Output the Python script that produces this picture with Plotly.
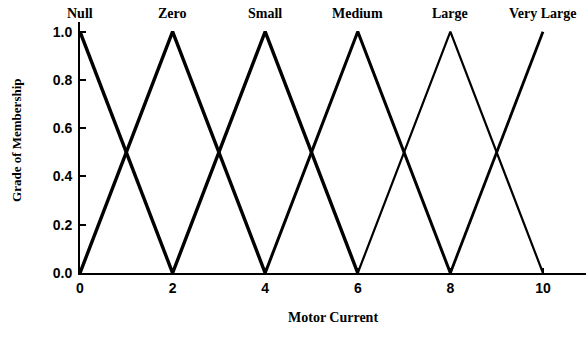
import plotly.graph_objects as go

# membership functions for motor current (triangles)
labels = ['Null', 'Zero', 'Small', 'Medium', 'Large', 'Very Large']
peaks = [0, 2, 4, 6, 8, 10]
null_x = [0, 2]
null_y = [1.0, 0.0]
zero_x = [0, 2, 4]
zero_y = [0.0, 1.0, 0.0]
small_x = [2, 4, 6]
small_y = [0.0, 1.0, 0.0]
medium_x = [4, 6, 8]
medium_y = [0.0, 1.0, 0.0]
large_x = [6, 8, 10]
large_y = [0.0, 1.0, 0.0]
very_large_x = [8, 10]
very_large_y = [0.0, 1.0]
x_ticks = [0, 2, 4, 6, 8, 10]
y_ticks = [0.0, 0.2, 0.4, 0.6, 0.8, 1.0]

series = [(null_x, null_y, 3.4), (zero_x, zero_y, 3.4), (small_x, small_y, 3.4),
          (medium_x, medium_y, 3), (large_x, large_y, 2.2), (very_large_x, very_large_y, 2.8)]

serif = 'Liberation Serif, Times New Roman, serif'
sans = 'Liberation Sans, Arial, sans-serif'

fig = go.Figure()
for (xs, ys, w), name in zip(series, labels):
    fig.add_trace(go.Scatter(x=xs, y=ys, mode='lines', name=name,
                             line=dict(color='black', width=w)))

# category labels above each peak
for lab, p in zip(labels, peaks):
    fig.add_annotation(x=p, y=1, xref='x', yref='paper', text=lab, showarrow=False,
                       xanchor='center', yanchor='middle', yshift=9,
                       font=dict(family=serif, size=14, color='black', weight='bold'))

fig.add_annotation(x=0, y=0.526, xref='paper', yref='paper', text='Grade of Membership',
                   textangle=-90, showarrow=False, xanchor='center', xshift=-63,
                   font=dict(family=serif, size=13, color='black', weight='bold'))
fig.add_annotation(x=0.5, y=0, xref='paper', yref='paper', text='Motor Current',
                   showarrow=False, xanchor='center', yshift=-54,
                   font=dict(family=serif, size=14, color='black', weight='bold'))

fig.update_layout(
    width=586, height=338,
    margin=dict(l=80, r=0, t=22, b=65, autoexpand=False),
    plot_bgcolor='white', paper_bgcolor='white',
    showlegend=False,
    xaxis=dict(range=[0, 10.93], tickvals=x_ticks, ticktext=[str(v) for v in x_ticks],
               automargin=False, ticklabelstandoff=1,
               showgrid=False, zeroline=False, showline=True, linecolor='black', linewidth=2,
               ticks='inside', ticklen=5, tickwidth=2, tickcolor='black',
               tickfont=dict(family=sans, size=14, color='black', weight='bold')),
    yaxis=dict(range=[0, 1.04], tickvals=y_ticks, ticktext=['%.1f' % v for v in y_ticks],
               automargin=False, ticklabelstandoff=3,
               showgrid=False, zeroline=False, showline=True, linecolor='black', linewidth=2,
               ticks='inside', ticklen=6, tickwidth=2, tickcolor='black',
               tickfont=dict(family=sans, size=14, color='black', weight='bold')),
)

# drop the default page margin so the figure sits at the window corner
fig.write_html('out.html', config={'displayModeBar': False},
               post_script="document.body.style.margin='0';")
